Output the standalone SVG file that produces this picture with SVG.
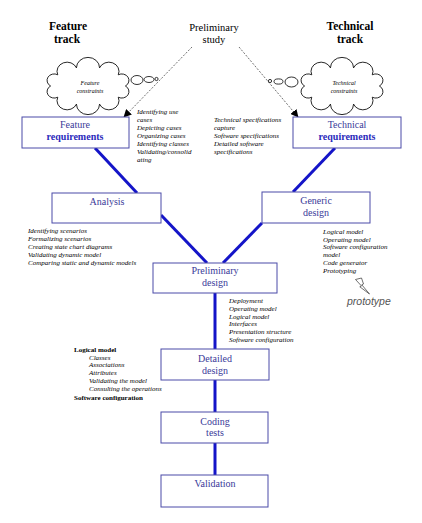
<svg xmlns="http://www.w3.org/2000/svg" width="422" height="523" viewBox="0 0 422 523">
<style>
.hd{font-family:"Liberation Serif",serif;font-weight:bold;font-size:11.5px;fill:#000;text-anchor:middle}
.st{font-family:"Liberation Serif",serif;font-size:10.5px;fill:#000;text-anchor:middle}
.box{fill:#fff;stroke:#4a4aa8;stroke-width:1}
.bt{font-family:"Liberation Serif",serif;font-size:10px;fill:#3a3a99;text-anchor:middle}
.bb{font-family:"Liberation Serif",serif;font-size:10px;font-weight:bold;fill:#2a2abb;text-anchor:middle}
.li{font-family:"Liberation Serif",serif;font-style:italic;font-size:7px;fill:#000}
.lb{font-family:"Liberation Serif",serif;font-weight:bold;font-size:7px;fill:#000}
.ci{font-family:"Liberation Serif",serif;font-style:italic;font-size:6px;fill:#000;text-anchor:middle}
.cl{fill:#fff;stroke:#000;stroke-width:0.8}
.con{stroke:#1414c8;stroke-width:3;fill:none}
.dash{stroke:#333;stroke-width:0.7;stroke-dasharray:2 1.5;fill:none}
</style>
<defs>
<marker id="ah" viewBox="0 0 10 10" refX="9" refY="5" markerWidth="8" markerHeight="8" orient="auto" markerUnits="userSpaceOnUse">
<path d="M0,0 L10,5 L0,10 z" fill="#000"/>
</marker>
<path id="cloud" d="M122,86 A1,1 0 0 1 115.5,97.2 A1,1 0 0 1 98.5,104.1 A1,1 0 0 1 77.5,104.1 A1,1 0 0 1 60.5,97.2 A1,1 0 0 1 54,86 A1,1 0 0 1 60.5,74.8 A1,1 0 0 1 77.5,67.9 A1,1 0 0 1 98.5,67.9 A1,1 0 0 1 115.5,74.8 A1,1 0 0 1 122,86 z"/>
</defs>
<rect width="422" height="523" fill="#fff"/>

<g id="headings">
<text class="hd" x="68" y="30">Feature</text>
<text class="hd" x="67" y="43">track</text>
<text class="hd" x="350" y="30">Technical</text>
<text class="hd" x="350" y="43">track</text>
</g>

<g id="preliminary-study">
<text class="st" x="214" y="31">Preliminary</text>
<text class="st" x="214" y="43">study</text>
</g>

<g id="feature-constraints">
<use href="#cloud" class="cl" transform="translate(88,86) scale(1.1,1) translate(-88,-86)"/>
<ellipse class="cl" cx="137" cy="80" rx="6" ry="4.5"/>
<ellipse class="cl" cx="149" cy="79.5" rx="5" ry="3"/>
<circle class="cl" cx="156.5" cy="79" r="1.6"/>
<text class="ci" x="90" y="85">Feature</text>
<text class="ci" x="90" y="93">constraints</text>
</g>

<g id="technical-constraints">
<use href="#cloud" class="cl" transform="translate(342,86) scale(1.1,1) translate(-88,-86)"/>
<ellipse class="cl" cx="291.5" cy="82" rx="6.5" ry="5"/>
<ellipse class="cl" cx="278.5" cy="81.5" rx="4.5" ry="2.6"/>
<circle class="cl" cx="270" cy="81" r="1.6"/>
<text class="ci" x="344" y="85">Technical</text>
<text class="ci" x="344" y="93">constraints</text>
</g>

<g id="connectors">
<line class="dash" x1="192" y1="47" x2="124" y2="117" marker-end="url(#ah)"/>
<line class="dash" x1="239" y1="47" x2="298" y2="117" marker-end="url(#ah)"/>
<line class="con" x1="95" y1="148" x2="137" y2="193"/>
<line class="con" x1="161" y1="215" x2="207" y2="263"/>
<line class="con" x1="335" y1="148" x2="293" y2="192"/>
<line class="con" x1="262" y1="223" x2="223" y2="263"/>
<line class="con" x1="215" y1="293" x2="215" y2="349"/>
<line class="con" x1="215" y1="380" x2="215" y2="412"/>
<line class="con" x1="215" y1="443" x2="215" y2="475"/>
</g>

<g id="feature-requirements">
<rect class="box" x="22" y="117" width="107" height="31"/>
<text class="bt" x="75" y="128">Feature</text>
<text class="bb" x="75" y="140">requirements</text>
</g>

<g id="technical-requirements">
<rect class="box" x="293" y="117" width="108" height="31"/>
<text class="bt" x="347" y="128">Technical</text>
<text class="bb" x="347" y="140">requirements</text>
</g>

<g id="analysis">
<rect class="box" x="52" y="193" width="109" height="30"/>
<text class="bt" x="107" y="205">Analysis</text>
</g>

<g id="generic-design">
<rect class="box" x="262" y="192" width="108" height="31"/>
<text class="bt" x="316" y="204">Generic</text>
<text class="bt" x="316" y="216">design</text>
</g>

<g id="preliminary-design">
<rect class="box" x="153" y="263" width="124" height="30"/>
<text class="bt" x="215" y="274">Preliminary</text>
<text class="bt" x="215" y="286">design</text>
</g>

<g id="detailed-design">
<rect class="box" x="161" y="349" width="108" height="31"/>
<text class="bt" x="215" y="362">Detailed</text>
<text class="bt" x="215" y="374">design</text>
</g>

<g id="coding-tests">
<rect class="box" x="161" y="412" width="107" height="31"/>
<text class="bt" x="215" y="425">Coding</text>
<text class="bt" x="215" y="436">tests</text>
</g>

<g id="validation">
<rect class="box" x="161" y="475" width="107" height="32"/>
<text class="bt" x="215" y="487">Validation</text>
</g>

<g id="feature-req-notes">
<text class="li" x="137" y="114">Identifying use</text>
<text class="li" x="137" y="122">cases</text>
<text class="li" x="137" y="130">Depicting cases</text>
<text class="li" x="137" y="138">Organizing cases</text>
<text class="li" x="137" y="146">Identifying classes</text>
<text class="li" x="137" y="154">Validating/consolid</text>
<text class="li" x="137" y="162">ating</text>
</g>

<g id="tech-req-notes">
<text class="li" x="214" y="122">Technical specifications</text>
<text class="li" x="214" y="129.5">capture</text>
<text class="li" x="214" y="137.5">Software specifications</text>
<text class="li" x="214" y="145.5">Detailed software</text>
<text class="li" x="214" y="153.5">specifications</text>
</g>

<g id="analysis-notes">
<text class="li" x="28" y="233">Identifying scenarios</text>
<text class="li" x="28" y="241">Formalizing scenarios</text>
<text class="li" x="28" y="248.5">Creating state chart diagrams</text>
<text class="li" x="28" y="256.5">Validating dynamic model</text>
<text class="li" x="28" y="264.5">Comparing static and dynamic models</text>
</g>

<g id="generic-notes">
<text class="li" x="323" y="234">Logical model</text>
<text class="li" x="323" y="241.5">Operating model</text>
<text class="li" x="323" y="249">Software configuration</text>
<text class="li" x="323" y="256.5">model</text>
<text class="li" x="323" y="265">Code generator</text>
<text class="li" x="323" y="272.5">Prototyping</text>
</g>

<g id="prototype">
<path d="M355.5,279.5 L361.5,278 L363.5,284 L361.8,284.8 L369.5,294 L359.8,286.8 L361.5,286 Z" fill="#fff" stroke="#333" stroke-width="0.7"/>
<text x="347" y="305" style="font-family:'Liberation Sans',sans-serif;font-style:italic;font-size:10.5px;fill:#555">prototype</text>
</g>

<g id="prelim-notes">
<text class="li" x="229" y="303">Deployment</text>
<text class="li" x="229" y="311">Operating model</text>
<text class="li" x="229" y="318.5">Logical model</text>
<text class="li" x="229" y="326">Interfaces</text>
<text class="li" x="229" y="334">Presentation structure</text>
<text class="li" x="229" y="342">Software configuration</text>
</g>

<g id="detailed-notes">
<text class="lb" x="74" y="352">Logical model</text>
<text class="li" x="89" y="359.5">Classes</text>
<text class="li" x="89" y="367">Associations</text>
<text class="li" x="89" y="374.5">Attributes</text>
<text class="li" x="89" y="382.5">Validating the model</text>
<text class="li" x="89" y="390.5">Consulting the operations</text>
<text class="lb" x="74" y="399.5">Software configuration</text>
</g>
</svg>
